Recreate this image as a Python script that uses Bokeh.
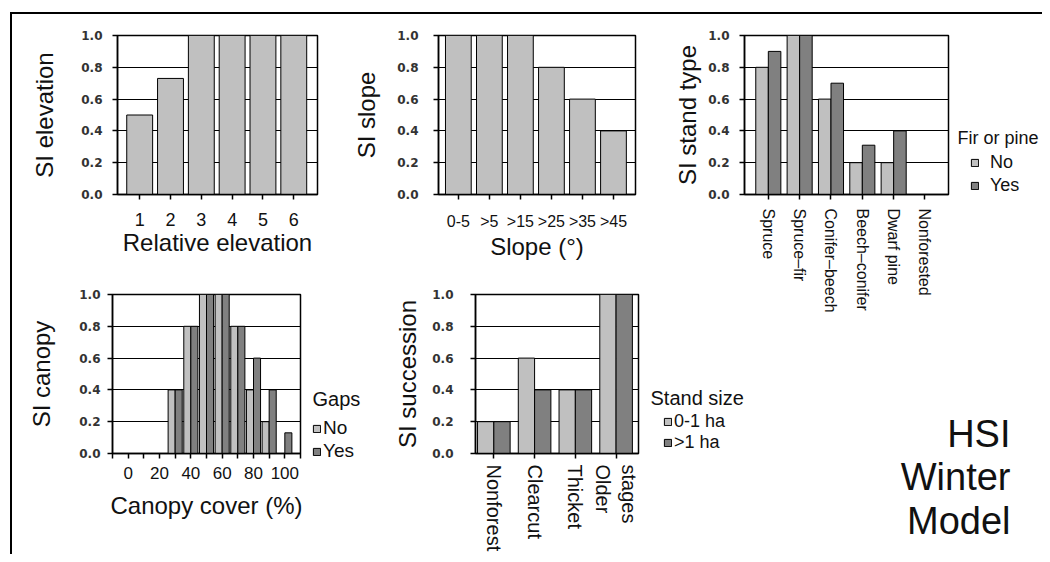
from bokeh.plotting import figure
from bokeh.models import (Range1d, FixedTicker, NumeralTickFormatter, Legend, LegendItem,
                          Label, GridBox)
from bokeh.embed import file_html
from bokeh.resources import INLINE
from bokeh.core.properties import value

# ---------------- data ----------------
elev_cats = ["1", "2", "3", "4", "5", "6"]
elev_si = [0.5, 0.73, 1.0, 1.0, 1.0, 1.0]

slope_cats = ["0-5", ">5", ">15", ">25", ">35", ">45"]
slope_si = [1.0, 1.0, 1.0, 0.8, 0.6, 0.4]

stand_cats = ["Spruce", "Spruce\u2013fir", "Conifer\u2013beech", "Beech\u2013conifer",
              "Dwarf pine", "Nonforested"]
stand_no = [0.8, 1.0, 0.6, 0.2, 0.2, 0.0]
stand_yes = [0.9, 1.0, 0.7, 0.31, 0.4, 0.0]

canopy_cover = [0, 10, 20, 30, 40, 50, 60, 70, 80, 90, 100]
canopy_no = [0, 0, 0, 0.4, 0.8, 1.0, 1.0, 0.8, 0.4, 0.2, 0.0]
canopy_yes = [0, 0, 0, 0.4, 0.8, 1.0, 1.0, 0.8, 0.6, 0.4, 0.13]
canopy_tick_values = [0, 20, 40, 60, 80, 100]
canopy_tick_labels = ["0", "20", "40", "60", "80", "100"]

succ_cats = ["Nonforest", "Clearcut", "Thicket", "Older stages"]
succ_small = [0.2, 0.6, 0.4, 1.0]
succ_large = [0.2, 0.4, 0.4, 1.0]

y_ticks = [0.0, 0.2, 0.4, 0.6, 0.8, 1.0]

stand_legend_title = "Fir or pine"
stand_series = ["No", "Yes"]
canopy_legend_title = "Gaps"
canopy_series = ["No", "Yes"]
succ_legend_title = "Stand size"
succ_series = ["0-1 ha", ">1 ha"]
title_lines = ["HSI", "Winter", "Model"]

LIGHT = "#C0C0C0"
DARK = "#808080"
FONT = "Liberation Sans"
INK = "#111111"


def no_align(p):
    if "frame_align" in p.properties():
        p.frame_align = False


def make_panel(width, height, left, right, top, bottom, xr, ylabel, xlabel,
               y_std=10, y_title_std=20, x_std=11, x_title_std=0, xfont="18px"):
    p = figure(width=width, height=height, x_range=Range1d(*xr), y_range=Range1d(0, 1),
               output_backend="svg", toolbar_location=None, tools="",
               min_border_left=left, min_border_right=right,
               min_border_top=top, min_border_bottom=bottom)
    no_align(p)
    p.outline_line_color = "black"
    p.outline_line_width = 1.5
    p.xgrid.visible = False
    p.ygrid.grid_line_color = "black"
    p.ygrid.grid_line_width = 1.2
    ya = p.yaxis[0]
    ya.ticker = FixedTicker(ticks=y_ticks)
    ya.formatter = NumeralTickFormatter(format="0.0")
    ya.major_label_text_font = "DejaVu Sans"
    ya.major_label_text_font_style = "bold"
    ya.major_label_text_font_size = "12px"
    ya.major_label_text_color = "#333333"
    ya.major_tick_in = 0
    ya.major_tick_out = 5
    ya.major_tick_line_width = 1.5
    ya.minor_tick_line_color = None
    ya.axis_line_width = 1.5
    ya.major_label_standoff = y_std
    ya.axis_label = ylabel
    ya.axis_label_text_font = FONT
    ya.axis_label_text_font_size = "24px"
    ya.axis_label_text_font_style = "normal"
    ya.axis_label_text_color = INK
    ya.axis_label_standoff = y_title_std

    xa = p.xaxis[0]
    xa.major_tick_in = 0
    xa.major_tick_out = 5
    xa.major_tick_line_width = 1.5
    xa.minor_tick_in = 0
    xa.minor_tick_out = 5
    xa.minor_tick_line_width = 1.5
    xa.axis_line_width = 1.5
    xa.major_label_text_font = FONT
    xa.major_label_text_font_size = xfont
    xa.major_label_text_color = INK
    xa.major_label_standoff = x_std
    xa.axis_label = xlabel
    xa.axis_label_text_font = FONT
    xa.axis_label_text_font_size = "24px"
    xa.axis_label_text_font_style = "normal"
    xa.axis_label_text_color = INK
    xa.axis_label_standoff = x_title_std
    return p


def cat_ticks(p, cats, rotated=False):
    pos = [i + 1 for i in range(len(cats))]
    p.xaxis[0].ticker = FixedTicker(ticks=pos, minor_ticks=[])
    labels = {}
    for k, c in zip(pos, cats):
        words = c.split(" ")
        # rotated multi-line tick labels are stacked in reverse order by Bokeh
        if rotated and c.startswith("Older"):
            labels[k] = "\n".join(reversed(words))
        else:
            labels[k] = c
    p.xaxis[0].major_label_overrides = labels
    if rotated:
        p.xaxis[0].major_label_orientation = "vertical"
    return pos


# ---------------- panel 1 : elevation ----------------
p1 = make_panel(338, 256, 105, 33, 21, 76, (0.28, 6.77), "SI elevation",
                "Relative elevation", y_std=10, y_title_std=20, x_std=13)
x1 = cat_ticks(p1, elev_cats)
p1.vbar(x=x1, top=elev_si, width=0.84, fill_color=LIGHT, line_color="black", line_width=1)

# ---------------- panel 2 : slope ----------------
p2 = make_panel(321, 256, 87, 36, 21, 76, (0.36, 6.71), "SI slope",
                "Slope (\u00b0)", y_std=15, y_title_std=14, x_std=13, xfont="16px")
x2 = cat_ticks(p2, slope_cats)
p2.vbar(x=x2, top=slope_si, width=0.83, fill_color=LIGHT, line_color="black", line_width=1)

# ---------------- panel 3 : stand type ----------------
p3 = make_panel(371, 306, 72, 94, 21, 126, (0.24, 6.75), "SI stand type", "",
                y_std=10, y_title_std=4, x_std=9, xfont="16px")
x3 = cat_ticks(p3, stand_cats, rotated=True)
p3.vbar(x=[v - 0.2 for v in x3], top=stand_no, width=0.4, fill_color=LIGHT,
        line_color="black", line_width=1)
p3.vbar(x=[v + 0.2 for v in x3], top=stand_yes, width=0.4, fill_color=DARK,
        line_color="black", line_width=1)

# ---------------- panel 4 : canopy ----------------
p4 = make_panel(379, 284, 100, 91, 24, 101, (-10, 110), "SI canopy",
                "Canopy cover (%)", y_std=7, y_title_std=21, x_std=8, x_title_std=10,
                xfont="17px")
p4.xaxis[0].ticker = FixedTicker(ticks=canopy_tick_values,
                                 minor_ticks=[-10, 10, 30, 50, 70, 90, 110])
p4.xaxis[0].major_label_overrides = {k: t for k, t in zip(canopy_tick_values, canopy_tick_labels)}
p4.vbar(x=[v - 2.25 for v in canopy_cover], top=canopy_no, width=4.5,
        fill_color=LIGHT, line_color="black", line_width=1)
p4.vbar(x=[v + 2.25 for v in canopy_cover], top=canopy_yes, width=4.5,
        fill_color=DARK, line_color="black", line_width=1)

# ---------------- panel 5 : succession ----------------
p5 = make_panel(361, 284, 79, 114, 24, 101, (0.55, 4.55), "SI succession", "",
                y_std=17, y_title_std=8, x_std=6, xfont="20px")
x5 = cat_ticks(p5, succ_cats, rotated=True)
p5.vbar(x=[v - 0.2 for v in x5], top=succ_small, width=0.4, fill_color=LIGHT,
        line_color="black", line_width=1)
p5.vbar(x=[v + 0.2 for v in x5], top=succ_large, width=0.4, fill_color=DARK,
        line_color="black", line_width=1)

# ---------------- overlay: legends and the model title ----------------
W, H = 1030, 540
ov = figure(width=W, height=H, x_range=Range1d(0, W), y_range=Range1d(0, H),
            output_backend="svg", toolbar_location=None, tools="",
            x_axis_type=None, y_axis_type=None,
            min_border_left=0, min_border_right=0, min_border_top=0, min_border_bottom=0)
no_align(ov)
ov.outline_line_color = None
ov.background_fill_alpha = 0
ov.border_fill_alpha = 0
ov.xgrid.visible = False
ov.ygrid.visible = False

NAN = float("nan")


def overlay_legend(title, series, tx, ty, tsize, lx, ly, lsize, standoff, lheight, spacing):
    ov.add_layout(Label(x=tx, y=ty, x_units="screen", y_units="screen", text=title,
                        text_font=FONT, text_font_size=tsize, text_color=INK,
                        text_baseline="middle", text_align="left"))
    items = []
    for name, col in zip(series, [LIGHT, DARK]):
        # legend swatch only: a renderer with a single missing value draws no bar
        r = ov.vbar(x=[NAN], top=[NAN], width=1, fill_color=col, line_color="black",
                    line_width=1)
        items.append(LegendItem(label=name, renderers=[r]))
    ov.add_layout(Legend(items=items, location=(lx, ly), glyph_width=9, glyph_height=9,
                         label_text_font=FONT, label_text_font_size=lsize,
                         label_text_color=INK, label_standoff=standoff,
                         label_height=lheight, padding=0, margin=0, spacing=spacing,
                         border_line_color=None, background_fill_alpha=0), "center")


overlay_legend(stand_legend_title, stand_series, 945, 417, "18px", 958, 358, "18px", 11, 21, 2)
overlay_legend(canopy_legend_title, canopy_series, 300, 156, "20px", 300, 92, "19px", 2, 21, 1)
overlay_legend(succ_legend_title, succ_series, 638, 157, "20px", 651, 101, "18px", 2, 20, 0)

ov.text(x=[998] * len(title_lines), y=[121, 78, 34], text=title_lines,
        text_align="right", text_baseline="alphabetic",
        text_font=value(FONT), text_font_size="38px", text_color=INK)

root = GridBox(children=[(p1, 0, 0), (p2, 0, 1, 1, 2), (p3, 0, 3, 2, 2),
                         (p4, 1, 0, 2, 2), (p5, 1, 2, 2, 2), (ov, 0, 0, 3, 5)],
               rows=["256px", "50px", "234px"],
               cols=["338px", "41px", "280px", "81px", "290px"],
               spacing=0, margin=(12, 0, 0, 10),
               styles={"border-top": "2px solid #000", "border-left": "2px solid #000"})

open("out.html", "w").write(file_html(root, INLINE))
